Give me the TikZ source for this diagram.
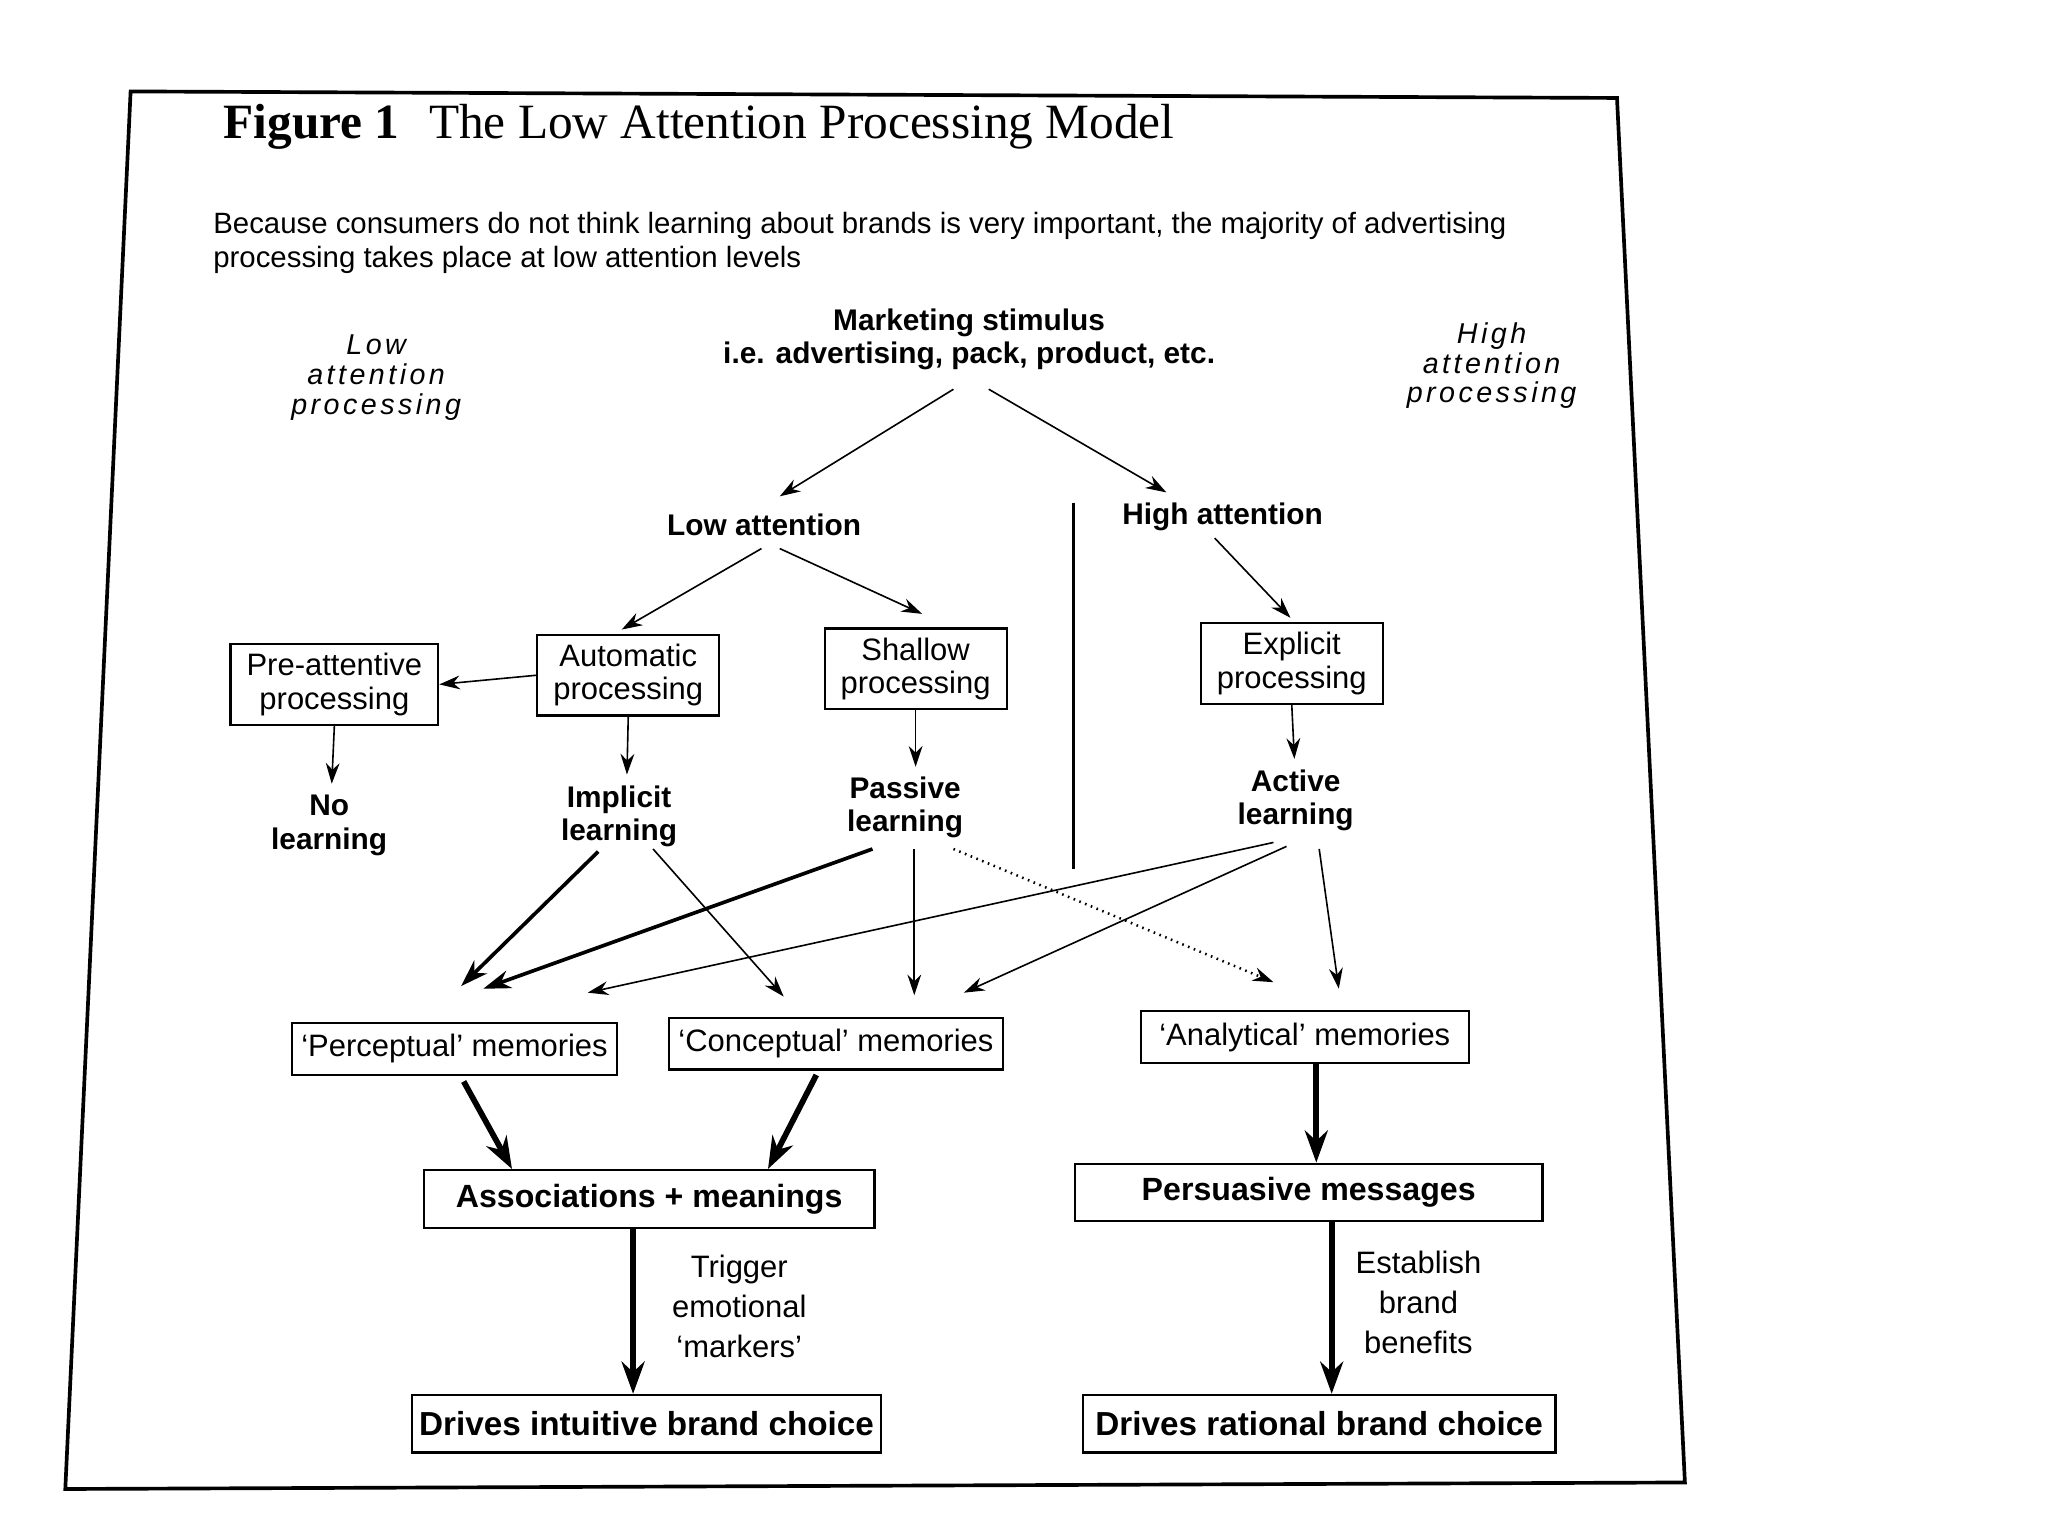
\documentclass[tikz,border=0pt]{standalone}
\usepackage{fontspec}
\setmainfont{Liberation Sans}
\newfontfamily\titlefont{Liberation Serif}
\usetikzlibrary{arrows.meta}
\begin{document}
\begin{tikzpicture}[x=0.02cm,y=-0.02cm,
  box/.style={draw,line width=0.9pt,align=center,font=\fontsize{13.5}{14.5}\selectfont,inner xsep=7pt,inner ysep=4pt},
  mbox/.style={draw,line width=0.9pt,align=center,font=\fontsize{13.5}{14.5}\selectfont,inner xsep=4pt,inner ysep=5pt},
  bbox/.style={draw,line width=1pt,align=center,font=\fontsize{14}{16}\selectfont\bfseries,inner sep=3pt},
  lbl/.style={align=center,font=\fontsize{13}{14.5}\selectfont\bfseries},
  ital/.style={align=center,font=\fontsize{12.5}{13}\selectfont\itshape},
  ar/.style={-{Stealth[length=9pt,width=6pt]},line width=0.7pt},
  tar/.style={-{Stealth[length=14pt,width=10pt]},line width=2.5pt},
  mar/.style={-{Stealth[length=12pt,width=8pt]},line width=1.6pt}]
\useasboundingbox (0,0) rectangle (1568,1176);
\fill[white] (0,0) rectangle (1568,1176);
\draw[line width=1.6pt] (100,70) -- (1238,75) -- (1290,1135) -- (50,1140) -- cycle;
\node[anchor=west,font=\titlefont\fontsize{21.5}{22}\selectfont\bfseries] (title) at (165,97) {Figure 1\hspace{0.6em}\mdseries The Low Attention Processing Model};
\node[anchor=north west,align=left,font=\fontsize{12.8}{15}\selectfont,inner sep=0] (sub) at (163,162) {Because consumers do not think learning about brands is very important, the majority of advertising\\processing takes place at low attention levels};
\node[lbl] (ms) at (742,260) {Marketing stimulus\\i.e. advertising, pack, product, etc.};
\node[ital,font=\fontsize{12.5}{13}\selectfont\itshape\addfontfeatures{LetterSpace=12}] (lap) at (288,289) {Low\\attention\\processing};
\node[ital,font=\fontsize{12.5}{13}\selectfont\itshape\addfontfeatures{LetterSpace=12}] (hap) at (1142,280) {High\\attention\\processing};
\node[lbl] (la) at (585,402) {Low attention};
\node[lbl] (ha) at (936,396) {High attention};
\coordinate (vt) at (822,385); \coordinate (vb) at (822,665);
\draw[line width=1.2pt] (vt) -- (vb);
\node[box] (pre) at (256,524) {Pre-attentive\\processing};
\node[box] (auto) at (481,517) {Automatic\\processing};
\node[box] (shal) at (701,512) {Shallow\\processing};
\node[box] (expl) at (989,508) {Explicit\\processing};
\node[lbl] (nol) at (252,632) {No\\learning};
\node[lbl] (impl) at (474,625) {Implicit\\learning};
\node[lbl] (pass) at (693,618) {Passive\\learning};
\node[lbl] (act) at (992,613) {Active\\learning};
\node[mbox] (perc) at (348,803) {`Perceptual' memories};
\node[mbox] (conc) at (640,799) {`Conceptual' memories};
\node[mbox,inner xsep=8pt] (anal) at (999,794) {`Analytical' memories};
\node[bbox,minimum width=345*0.02cm,minimum height=44*0.02cm] (assoc) at (497,918) {Associations + meanings};
\node[bbox,minimum width=358*0.02cm,minimum height=44*0.02cm] (pers) at (1002,913) {Persuasive messages};
\node[bbox,minimum width=345*0.02cm,minimum height=44*0.02cm,font=\fontsize{14.5}{16}\selectfont\bfseries] (dint) at (495,1090) {Drives intuitive brand choice};
\node[bbox,minimum width=362*0.02cm,minimum height=44*0.02cm,font=\fontsize{14.5}{16}\selectfont\bfseries] (drat) at (1010,1090) {Drives rational brand choice};
\node[align=center,font=\fontsize{13.5}{17.5}\selectfont] (trig) at (566,1000) {Trigger\\emotional\\`markers'};
\node[align=center,font=\fontsize{13.5}{17.5}\selectfont] (est) at (1086,997) {Establish\\brand\\benefits};
% arrows
\draw[ar] ([shift={(-12,38)}]ms.center) -- ([shift={(12,-22)}]la.center);
\draw[ar] ([shift={(15,38)}]ms.center) -- ([shift={(-43,-19)}]ha.center);
\draw[ar] ([shift={(-2,18)}]la.center) -- ([shift={(-5,-35)}]auto.center);
\draw[ar] ([shift={(12,18)}]la.center) -- ([shift={(5,-42)}]shal.center);
\draw[ar] ([shift={(-6,16)}]ha.center) -- ([shift={(-1,-35)}]expl.center);
\draw[ar] (auto.west) -- (pre.east);
\draw[ar] (pre.south) -- ([shift={(2,-32)}]nol.center);
\draw[ar] (auto.south) -- ([shift={(6,-32)}]impl.center);
\draw[ar] (shal.south) -- ([shift={(8,-31)}]pass.center);
\draw[ar] (expl.south) -- ([shift={(-1,-32)}]act.center);
\draw[mar] ([shift={(-16,27)}]impl.center) -- ([shift={(5,-48)}]perc.center);
\draw[ar] ([shift={(26,25)}]impl.center) -- ([shift={(-40,-36)}]conc.center);
\draw[mar] ([shift={(-25,32)}]pass.center) -- ([shift={(22,-46)}]perc.center);
\draw[ar] ([shift={(7,32)}]pass.center) -- ([shift={(60,-37)}]conc.center);
\draw[ar,dotted,line width=1.1pt] ([shift={(37,32)}]pass.center) -- ([shift={(-24,-42)}]anal.center);
\draw[ar] ([shift={(-17,32)}]act.center) -- ([shift={(102,-43)}]perc.center);
\draw[ar] ([shift={(-7,35)}]act.center) -- ([shift={(98,-39)}]conc.center);
\draw[ar] ([shift={(18,37)}]act.center) -- ([shift={(26,-37)}]anal.center);
\draw[tar] ([shift={(7,25)}]perc.center) -- ([shift={(-105,-23)}]assoc.center);
\draw[tar] ([shift={(-15,24)}]conc.center) -- ([shift={(91,-23)}]assoc.center);
\draw[tar] ([xshift=5pt]anal.south) -- ([xshift=5pt]anal.south |- pers.north);
\draw[tar] ([xshift=-7pt]assoc.south) -- ([xshift=-7pt]assoc.south |- dint.north);
\draw[tar] ([xshift=10pt]pers.south) -- ([xshift=10pt]pers.south |- drat.north);
\end{tikzpicture}
\end{document}
